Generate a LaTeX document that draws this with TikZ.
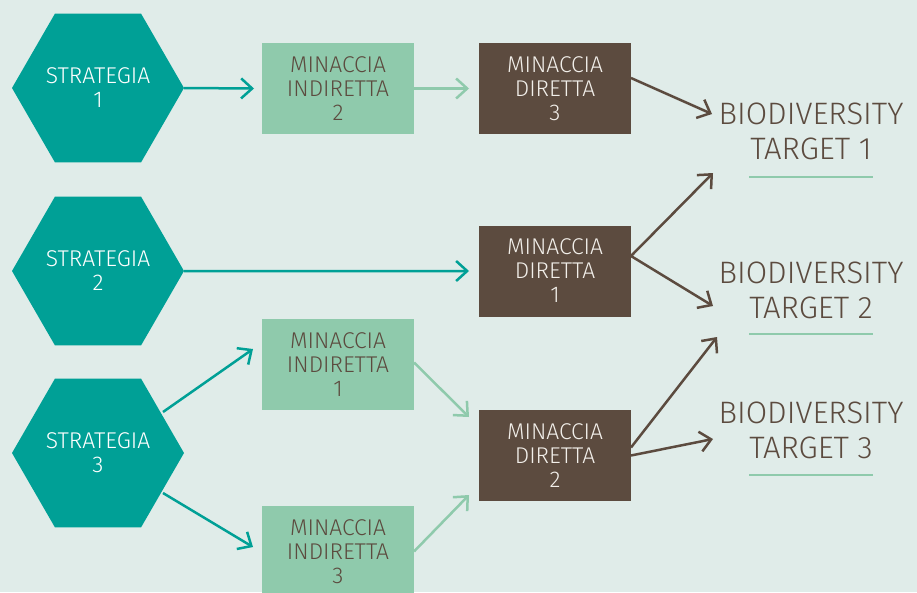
\documentclass[tikz,border=0pt]{standalone}
\usepackage{fontspec}
\setmainfont{Fira Sans}[UprightFont=* Light]
\usetikzlibrary{shapes.geometric,arrows.meta,calc}
\definecolor{bg}{HTML}{E0ECE9}
\definecolor{teal}{HTML}{00A096}
\definecolor{lgreen}{HTML}{8FCAAC}
\definecolor{dbrown}{HTML}{5C4B3F}
\definecolor{ltext}{HTML}{F2EFEA}
\tikzset{
  hexa/.style={regular polygon, regular polygon sides=6, minimum size=172pt, inner sep=0pt, outer sep=0pt, fill=teal, text=white, align=center, font=\fontsize{22.8}{24}\selectfont},
  indbox/.style={rectangle, minimum width=152pt, minimum height=91pt, inner sep=0pt, outer sep=0pt, fill=lgreen, text=dbrown, align=center, font=\fontsize{22.8}{24}\selectfont},
  dirbox/.style={rectangle, minimum width=152pt, minimum height=91pt, inner sep=0pt, outer sep=0pt, fill=dbrown, text=ltext, align=center, font=\fontsize{22.8}{24}\selectfont},
  target/.style={text=dbrown, align=center, inner sep=0pt, font=\fontsize{31}{35}\selectfont},
  uline/.style={draw=lgreen, line width=2.6pt},
  arr/.style={-{Straight Barb[length=11pt,width=20pt]}, line width=2.5pt},
  arrteal/.style={arr, draw=teal},
  arrgreen/.style={arr, draw=lgreen},
  arrbrown/.style={arr, draw=dbrown}
}
\begin{document}
\begin{tikzpicture}[x=1pt,y=-1pt]
\fill[bg] (0,0) rectangle (917,592);
\useasboundingbox (0,0) rectangle (917,592);

\node[hexa] (s1) at (98,88) {STRATEGIA\\1};
\node[hexa] (s2) at (98,271) {STRATEGIA\\2};
\node[hexa] (s3) at (98,453) {STRATEGIA\\3};

\node[indbox] (i2) at (338,88.5) {MINACCIA\\INDIRETTA\\2};
\node[indbox] (i1) at (338,364.5) {MINACCIA\\INDIRETTA\\1};
\node[indbox] (i3) at (338,551.5) {MINACCIA\\INDIRETTA\\3};

\node[dirbox] (d3) at (555,88.5) {MINACCIA\\DIRETTA\\3};
\node[dirbox] (d1) at (555,271) {MINACCIA\\DIRETTA\\1};
\node[dirbox] (d2) at (555,455.5) {MINACCIA\\DIRETTA\\2};

\node[target] (t1) at (811,131.5) {BIODIVERSITY\\TARGET 1};
\node[target] (t2) at (811,290) {BIODIVERSITY\\TARGET 2};
\node[target] (t3) at (811,430.5) {BIODIVERSITY\\TARGET 3};

\draw[uline] ($(t1.center)+(-62,45.5)$) -- ($(t1.center)+(62,45.5)$);
\draw[uline] ($(t2.center)+(-62,44)$) -- ($(t2.center)+(62,44)$);
\draw[uline] ($(t3.center)+(-62,44.5)$) -- ($(t3.center)+(62,44.5)$);

\draw[arrteal] (s1.east) -- ($(i2.west)+(-8,0)$);
\draw[arrteal] (s2.east) -- ($(d1.west)+(-10,0)$);
\draw[arrteal] ($(s3.center)+(65,-41)$) -- ($(i1.west)+(-9,-15.5)$);
\draw[arrteal] ($(s3.center)+(65,40)$) -- ($(i3.west)+(-9,-4.5)$);

\draw[arrgreen] (i2.east) -- ($(d3.west)+(-10,0)$);
\draw[arrgreen] ($(i1.east)+(0,-2)$) -- ($(d2.north west)+(-10,7)$);
\draw[arrgreen] (i3.east) -- ($(d2.south west)+(-10,-6)$);

\draw[arrbrown] ($(d3.east)+(0,-10.5)$) -- ($(t1.center)+(-99,-17.5)$);
\draw[arrbrown] ($(d1.east)+(0,-15)$) -- ($(t1.center)+(-98,41.5)$);
\draw[arrbrown] ($(d1.east)+(0,-15)$) -- ($(t2.center)+(-98,16)$);
\draw[arrbrown] ($(d2.east)+(0,-8)$) -- ($(t2.center)+(-94,47)$);
\draw[arrbrown] (d2.east) -- ($(t3.center)+(-98,8.5)$);
\end{tikzpicture}
\end{document}
